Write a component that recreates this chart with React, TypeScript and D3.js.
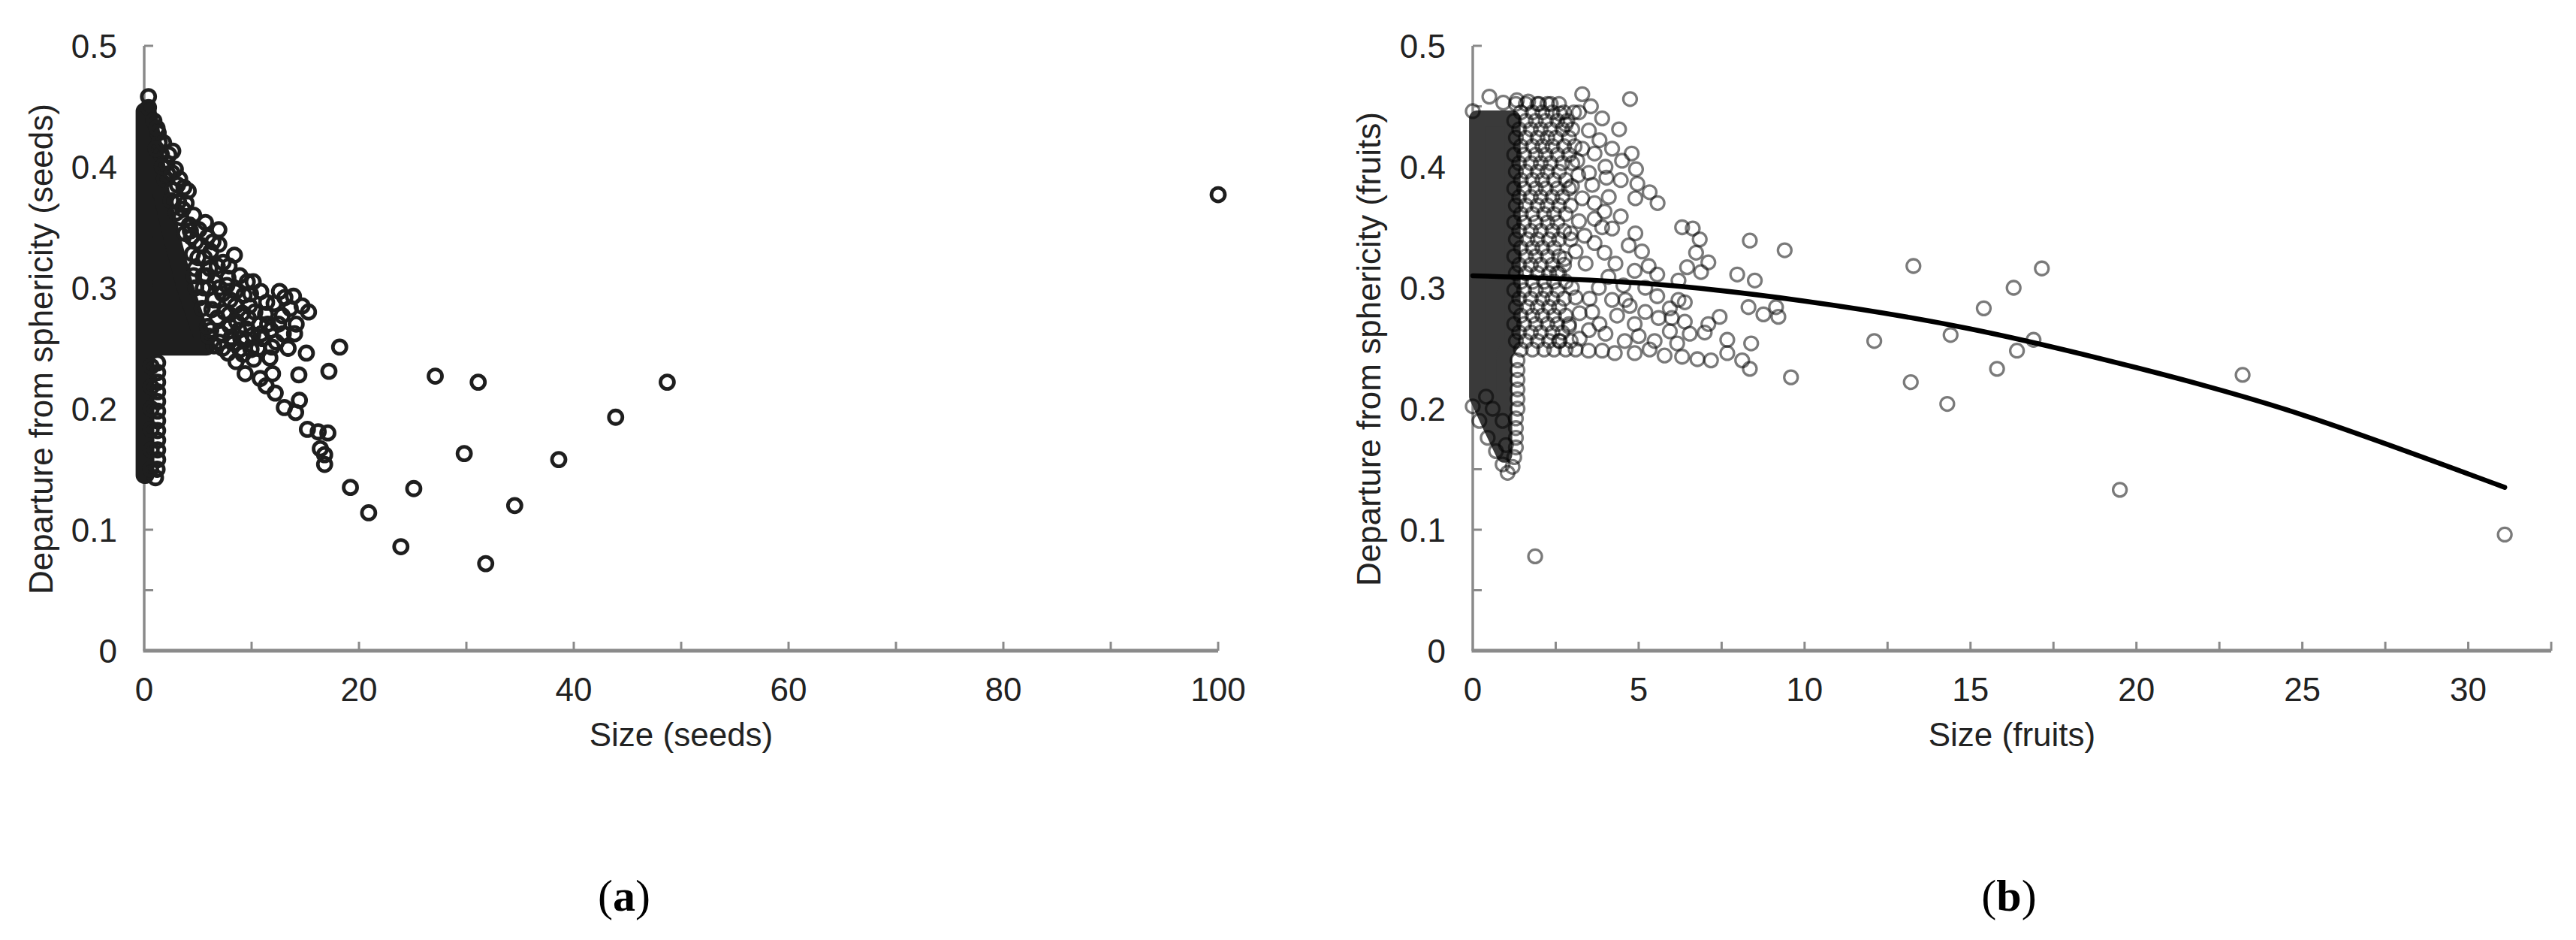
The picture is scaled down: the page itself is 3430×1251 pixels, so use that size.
// Two scatter panels: departure from sphericity vs size, (a) seeds and (b) fruits.
import { useEffect, useRef } from "react";
import * as d3 from "d3";

const W = 3430;
const H = 1251;
const Y_TOP = 61;
const Y_BOTTOM = 866;
const R = 9;
const TICK = 12;
const FONT = "'Liberation Sans', Arial, sans-serif";

const Y_MAJOR = [0, 0.1, 0.2, 0.3, 0.4, 0.5];
const Y_MINOR = [0.05, 0.15, 0.25, 0.35, 0.45];
const SEED_X_MAJOR = [0, 20, 40, 60, 80, 100];
const SEED_X_MINOR = [10, 30, 50, 70, 90];
const FRUIT_X_MAJOR = [0, 5, 10, 15, 20, 25, 30];
const FRUIT_X_MINOR = [2.5, 7.5, 12.5, 17.5, 22.5, 27.5, 32.5];

// where thousands of markers overlap into solid ink (marker centres)
const seedCore: [number, number][] = [
  [0, 0.145], [0, 0.446], [0.35, 0.446], [0.8, 0.422], [1.5, 0.382], [2.6, 0.341],
  [3.8, 0.301], [5.0, 0.269], [5.8, 0.251], [0.15, 0.251], [0.15, 0.145],
];
const fruitCore: [number, number][] = [
  [0.13, 0.21], [0.13, 0.44], [1.2, 0.44], [1.2, 0.255], [0.95, 0.245], [0.95, 0.162], [0.55, 0.185],
];

// seeds: size, departure
const seedPoints: [number, number][] = [
  [0.4, 0.458], [0.4, 0.449], [0.9, 0.438], [1.3, 0.428], [1.4, 0.42], [1.6, 0.41], [2.66, 0.413],
  [2.1, 0.403], [2.2, 0.394], [1.9, 0.39], [3.7, 0.383], [2.66, 0.381], [4.1, 0.38], [2.5, 0.372],
  [3.2, 0.371], [3.0, 0.362], [3.4, 0.358], [4.2, 0.352], [4.3, 0.347], [3.8, 0.345], [5.7, 0.354],
  [6.95, 0.348], [6.95, 0.336], [6.2, 0.33], [5.3, 0.335], [4.8, 0.338], [4.5, 0.328], [5.6, 0.325],
  [8.4, 0.327], [7.35, 0.321], [7.9, 0.318], [6.8, 0.318], [6.1, 0.316], [4.75, 0.316], [5.5, 0.31],
  [6.0, 0.3], [5.2, 0.292], [4.8, 0.3], [6.5, 0.29], [7.0, 0.3], [7.8, 0.308], [8.5, 0.297],
  [8.0, 0.29], [7.5, 0.28], [6.8, 0.275], [6.2, 0.265], [7.2, 0.262], [8.0, 0.268], [8.8, 0.265],
  [8.5, 0.285], [9.15, 0.279], [9.3, 0.294], [9.8, 0.285], [9.5, 0.266], [10.15, 0.305], [10.85, 0.297],
  [10.3, 0.28], [10.75, 0.27], [11.3, 0.278], [11.5, 0.27], [12.1, 0.287], [13.1, 0.292], [12.85, 0.277],
  [14.15, 0.27], [15.3, 0.28], [12.95, 0.262], [12.3, 0.255], [11.0, 0.258], [10.1, 0.261], [9.5, 0.257],
  [8.3, 0.254], [6.5, 0.252], [7.3, 0.25], [8.9, 0.249], [9.95, 0.249], [10.6, 0.25], [9.2, 0.245],
  [7.8, 0.246], [11.7, 0.242], [10.2, 0.241], [8.55, 0.239], [9.4, 0.229], [10.8, 0.225], [11.95, 0.229],
  [11.35, 0.219], [12.2, 0.213], [13.05, 0.201], [14.1, 0.197], [14.45, 0.207], [14.4, 0.228], [15.1, 0.246],
  [17.2, 0.231], [18.2, 0.251], [15.2, 0.183], [16.2, 0.181], [17.1, 0.18], [16.4, 0.167], [16.8, 0.162],
  [16.8, 0.154],
  [1.2, 0.432], [1.8, 0.42], [2.3, 0.41], [2.9, 0.398], [3.3, 0.39], [1.1, 0.415], [1.7, 0.4],
  [2.6, 0.395], [3.1, 0.385], [3.9, 0.37], [4.6, 0.36], [5.1, 0.348], [5.9, 0.342], [6.4, 0.338],
  [3.6, 0.365], [4.4, 0.342], [5.0, 0.325], [5.8, 0.31], [6.6, 0.305], [7.3, 0.295], [7.7, 0.302],
  [6.3, 0.282], [7.9, 0.278], [8.6, 0.272], [9.0, 0.258], [8.1, 0.259], [7.0, 0.255], [6.0, 0.26],
  [9.7, 0.275], [10.9, 0.262], [11.8, 0.265], [12.5, 0.27], [13.6, 0.283], [14.0, 0.262], [11.9, 0.251],
  [13.4, 0.25], [5.4, 0.283], [5.9, 0.268], [4.6, 0.31], [5.5, 0.3], [8.9, 0.31], [9.6, 0.305],
  [9.9, 0.295], [11.4, 0.288], [12.6, 0.297], [13.9, 0.293], [14.7, 0.285],
  [1.25, 0.238], [1.25, 0.23], [1.25, 0.222], [1.25, 0.214], [1.25, 0.206], [1.25, 0.198], [1.25, 0.19],
  [1.25, 0.182], [1.25, 0.174], [1.25, 0.166], [1.25, 0.158], [1.2, 0.15], [1.05, 0.143], [0.65, 0.235],
  [0.65, 0.218], [0.65, 0.2], [0.65, 0.183], [0.65, 0.166], [0.6, 0.15],
  [19.2, 0.135], [20.9, 0.114], [23.9, 0.086], [25.1, 0.134], [27.1, 0.227], [29.8, 0.163], [31.1, 0.222],
  [31.8, 0.072], [34.5, 0.12], [38.6, 0.158], [43.9, 0.193], [48.7, 0.222], [100, 0.377],
];

// fruits: size, departure
const fruitPoints: [number, number][] = [
  [0.5, 0.458], [0.92, 0.453], [1.33, 0.455], [1.67, 0.454], [2.0, 0.452], [0.0, 0.446],
  [3.3, 0.46], [3.56, 0.45], [4.74, 0.456], [4.41, 0.431], [3.82, 0.422], [3.67, 0.411], [4.79, 0.411],
  [4.92, 0.398], [4.03, 0.391], [4.46, 0.389], [4.96, 0.386], [5.33, 0.379], [4.9, 0.374], [5.57, 0.37],
  [6.31, 0.35], [6.63, 0.349], [6.84, 0.34], [6.73, 0.329], [7.1, 0.321], [6.46, 0.317], [6.88, 0.313],
  [8.35, 0.339], [9.4, 0.331], [7.97, 0.311], [8.5, 0.306], [6.2, 0.306], [5.56, 0.311], [4.88, 0.314],
  [5.56, 0.293], [6.2, 0.29], [8.31, 0.284], [8.76, 0.278], [9.21, 0.276], [9.14, 0.284], [7.44, 0.276],
  [7.1, 0.27], [6.39, 0.272], [6.99, 0.263], [7.67, 0.257], [8.39, 0.254], [7.67, 0.246], [8.12, 0.24],
  [8.35, 0.233], [7.18, 0.24], [6.77, 0.241], [6.31, 0.243], [5.78, 0.244], [6.16, 0.254], [6.54, 0.262],
  [5.48, 0.256], [4.88, 0.27], [4.88, 0.246], [5.33, 0.249], [9.59, 0.226], [4.28, 0.246], [3.9, 0.248],
  [3.49, 0.248], [4.58, 0.256], [4.35, 0.277], [4.73, 0.285], [5.94, 0.264], [6.39, 0.288], [5.94, 0.283],
  [4.09, 0.309], [4.54, 0.302], [3.67, 0.337], [3.97, 0.329], [4.46, 0.359], [4.2, 0.349], [3.67, 0.357],
  [3.97, 0.363], [3.37, 0.343], [3.3, 0.374], [3.67, 0.37], [3.18, 0.393], [2.99, 0.384], [3.15, 0.405],
  [3.07, 0.417], [2.8, 0.435], [2.35, 0.452], [2.62, 0.444], [2.77, 0.324], [2.54, 0.312], [2.99, 0.3],
  [3.52, 0.291], [3.22, 0.279], [3.82, 0.27], [3.22, 0.258], [2.62, 0.256],
  [4.9, 0.345], [5.1, 0.33], [4.7, 0.335], [5.3, 0.318], [4.6, 0.29], [5.2, 0.28], [5.6, 0.275],
  [5.0, 0.26], [6.0, 0.275], [5.2, 0.3], [4.3, 0.32], [3.8, 0.3], [4.2, 0.29], [3.6, 0.28], [4.0, 0.262],
  [3.5, 0.265], [4.1, 0.375], [4.5, 0.405], [4.2, 0.415], [3.5, 0.43], [3.9, 0.44], [3.2, 0.445],
  [4.0, 0.4], [3.5, 0.395], [3.6, 0.385], [3.3, 0.415], [3.9, 0.35], [3.4, 0.32], [3.1, 0.33],
  [3.2, 0.355], [2.95, 0.345], [3.1, 0.292], [2.9, 0.268],
  [1.35, 0.24], [1.35, 0.232], [1.35, 0.224], [1.35, 0.216], [1.35, 0.208], [1.35, 0.2], [1.3, 0.192],
  [1.3, 0.184], [1.3, 0.176], [1.3, 0.168], [1.25, 0.16], [1.2, 0.152], [1.05, 0.147], [0.0, 0.202],
  [0.2, 0.19], [0.45, 0.176], [0.7, 0.165], [0.9, 0.154], [0.6, 0.2], [0.9, 0.19], [1.0, 0.17], [0.4, 0.21],
  [13.28, 0.318], [17.15, 0.316], [16.3, 0.3], [15.4, 0.283], [12.1, 0.256], [14.4, 0.261], [16.9, 0.257],
  [16.4, 0.248], [15.8, 0.233], [13.2, 0.222], [14.3, 0.204], [19.5, 0.133], [23.2, 0.228], [31.1, 0.096],
  [1.88, 0.078],
];

// the crowded band just right of the fruit core, row by row: departure, sizes
const fruitDenseRows: [number, number[]][] = [
  [0.452, [1.3, 1.6, 1.95, 2.25, 2.6]],
  [0.445, [1.45, 1.8, 2.1, 2.4, 2.75, 3.05]],
  [0.438, [1.25, 1.6, 1.9, 2.2, 2.55, 2.85]],
  [0.431, [1.4, 1.75, 2.05, 2.35, 2.7, 3.0]],
  [0.424, [1.3, 1.6, 1.95, 2.25, 2.5, 2.9]],
  [0.417, [1.45, 1.8, 2.1, 2.4, 2.75]],
  [0.41, [1.25, 1.55, 1.9, 2.2, 2.55, 2.9]],
  [0.403, [1.4, 1.75, 2.05, 2.35, 2.7, 3.0]],
  [0.396, [1.3, 1.6, 1.95, 2.25, 2.6]],
  [0.389, [1.45, 1.8, 2.1, 2.45, 2.8]],
  [0.382, [1.25, 1.55, 1.9, 2.2, 2.55, 2.9]],
  [0.375, [1.4, 1.75, 2.05, 2.4, 2.7]],
  [0.368, [1.3, 1.6, 1.95, 2.25, 2.6, 2.95]],
  [0.361, [1.45, 1.8, 2.15, 2.45, 2.8]],
  [0.354, [1.25, 1.55, 1.9, 2.25, 2.55]],
  [0.347, [1.4, 1.75, 2.05, 2.4, 2.75]],
  [0.34, [1.3, 1.65, 1.95, 2.3, 2.6, 2.95]],
  [0.333, [1.45, 1.8, 2.1, 2.45]],
  [0.326, [1.25, 1.6, 1.9, 2.25, 2.6]],
  [0.319, [1.4, 1.75, 2.05, 2.4, 2.75]],
  [0.312, [1.3, 1.6, 1.95, 2.3, 2.6]],
  [0.305, [1.45, 1.8, 2.15, 2.45, 2.8]],
  [0.298, [1.25, 1.55, 1.9, 2.2, 2.55]],
  [0.291, [1.4, 1.75, 2.1, 2.4, 2.75]],
  [0.284, [1.3, 1.65, 1.95, 2.3, 2.6]],
  [0.277, [1.45, 1.8, 2.1, 2.45, 2.8]],
  [0.27, [1.25, 1.55, 1.9, 2.25, 2.55, 2.9]],
  [0.263, [1.4, 1.75, 2.05, 2.4, 2.7]],
  [0.256, [1.3, 1.6, 1.95, 2.3, 2.6, 2.95]],
  [0.249, [1.45, 1.8, 2.15, 2.45, 2.8, 3.1]],
];

// fitted trend for fruits
const fruitTrend: [number, number][] = [
  [0, 0.31], [5, 0.304], [10, 0.289], [15, 0.266], [20, 0.234], [25, 0.195], [31.1, 0.135],
];

const PANELS = [
  {
    key: "a", left: 192, right: 1622, xMax: 100, xMajor: SEED_X_MAJOR, xMinor: SEED_X_MINOR,
    core: seedCore, points: seedPoints, color: "#1e1e1e", opacity: 1, coreColor: "#1e1e1e", sw: 4.8,
    xTitle: "Size (seeds)", yTitle: "Departure from sphericity (seeds)", yTitleX: 70, labelX: 831,
    trend: null as [number, number][] | null,
  },
  {
    key: "b", left: 1961, right: 3397, xMax: 32.5, xMajor: FRUIT_X_MAJOR, xMinor: FRUIT_X_MINOR,
    core: fruitCore,
    points: [...fruitPoints, ...fruitDenseRows.flatMap(([dep, sizes]) => sizes.map((s) => [s, dep] as [number, number]))],
    color: "#000", opacity: 0.52, coreColor: "#3a3a3a", sw: 3.3,
    xTitle: "Size (fruits)", yTitle: "Departure from sphericity (fruits)", yTitleX: 1838, labelX: 2675,
    trend: fruitTrend,
  },
];

function drawPanel(svg: d3.Selection<SVGSVGElement, unknown, null, undefined>, p: (typeof PANELS)[number]) {
  const x = d3.scaleLinear().domain([0, p.xMax]).range([p.left, p.right]);
  const y = d3.scaleLinear().domain([0, 0.5]).range([Y_BOTTOM, Y_TOP]);
  const g = svg.append("g");
  const axisColor = "#8a8a8a";

  // y axis
  g.append("line")
    .attr("x1", x(0)).attr("x2", x(0)).attr("y1", y(0)).attr("y2", y(0.5))
    .attr("stroke", axisColor).attr("stroke-width", 3.5);
  g.selectAll("line.yt")
    .data([...Y_MAJOR, ...Y_MINOR].filter((v) => v > 0))
    .join("line")
    .attr("x1", x(0)).attr("x2", x(0) + TICK)
    .attr("y1", (d) => y(d)).attr("y2", (d) => y(d))
    .attr("stroke", axisColor).attr("stroke-width", 3);
  g.selectAll("text.yl")
    .data(Y_MAJOR)
    .join("text")
    .attr("x", x(0) - 36)
    .attr("y", (d) => y(d))
    .attr("dy", "0.36em")
    .attr("text-anchor", "end")
    .attr("font-family", FONT).attr("font-size", 44).attr("fill", "#222")
    .text((d) => (d === 0 ? "0" : d3.format(".1f")(d)));

  // x axis
  g.selectAll("line.xt")
    .data([...p.xMajor, ...p.xMinor].filter((v) => v > 0))
    .join("line")
    .attr("x1", (d) => x(d)).attr("x2", (d) => x(d))
    .attr("y1", y(0)).attr("y2", y(0) - TICK)
    .attr("stroke", axisColor).attr("stroke-width", 3);
  g.append("line")
    .attr("x1", x(0) - 1.5).attr("x2", x(p.xMax)).attr("y1", y(0)).attr("y2", y(0))
    .attr("stroke", axisColor).attr("stroke-width", 5);
  g.selectAll("text.xl")
    .data(p.xMajor)
    .join("text")
    .attr("x", (d) => x(d))
    .attr("y", y(0) + 67)
    .attr("text-anchor", "middle")
    .attr("font-family", FONT).attr("font-size", 44).attr("fill", "#222")
    .text((d) => String(d));

  // titles
  g.append("text")
    .attr("x", (p.left + p.right) / 2).attr("y", 993)
    .attr("text-anchor", "middle")
    .attr("font-family", FONT).attr("font-size", 44).attr("fill", "#222")
    .text(p.xTitle);
  g.append("text")
    .attr("transform", `translate(${p.yTitleX},${(Y_TOP + Y_BOTTOM) / 2 + 1}) rotate(-90)`)
    .attr("text-anchor", "middle")
    .attr("font-family", FONT).attr("font-size", 44).attr("fill", "#222")
    .text(p.yTitle);

  // saturated core
  const coreLine = d3.line<[number, number]>()
    .x((d) => x(d[0])).y((d) => y(d[1]))
    .curve(d3.curveLinearClosed);
  g.append("path")
    .datum(p.core)
    .attr("d", coreLine)
    .attr("fill", p.coreColor)
    .attr("stroke", p.coreColor)
    .attr("stroke-width", 2 * (R + p.sw / 2))
    .attr("stroke-linejoin", "round");

  // markers
  g.selectAll("circle.pt")
    .data(p.points)
    .join("circle")
    .attr("cx", (d) => x(d[0]))
    .attr("cy", (d) => y(d[1]))
    .attr("r", R)
    .attr("fill", "none")
    .attr("stroke", p.color)
    .attr("stroke-opacity", p.opacity)
    .attr("stroke-width", p.sw);

  if (p.trend) {
    const trendLine = d3.line<[number, number]>()
      .x((d) => x(d[0])).y((d) => y(d[1]))
      .curve(d3.curveNatural);
    g.append("path")
      .datum(p.trend)
      .attr("d", trendLine)
      .attr("fill", "none")
      .attr("stroke", "#000")
      .attr("stroke-width", 6.5)
      .attr("stroke-linecap", "round");
  }

  // sub-figure label
  const lab = g.append("text")
    .attr("x", p.labelX).attr("y", 1212)
    .attr("text-anchor", "middle")
    .attr("font-family", "'Liberation Serif', 'Times New Roman', serif")
    .attr("font-size", 60).attr("fill", "#000");
  lab.append("tspan").text("(");
  lab.append("tspan").attr("font-weight", "bold").text(p.key);
  lab.append("tspan").text(")");
}

export default function App() {
  const svgRef = useRef<SVGSVGElement | null>(null);

  useEffect(() => {
    if (!svgRef.current) return;
    const svg = d3.select(svgRef.current);
    svg.selectAll("*").remove();
    svg.append("rect").attr("width", W).attr("height", H).attr("fill", "#fff");
    PANELS.forEach((p) => drawPanel(svg, p));
  }, []);

  return (
    <svg
      ref={svgRef}
      width={W}
      height={H}
      viewBox={`0 0 ${W} ${H}`}
      style={{ position: "absolute", left: 0, top: 0, display: "block" }}
    />
  );
}
